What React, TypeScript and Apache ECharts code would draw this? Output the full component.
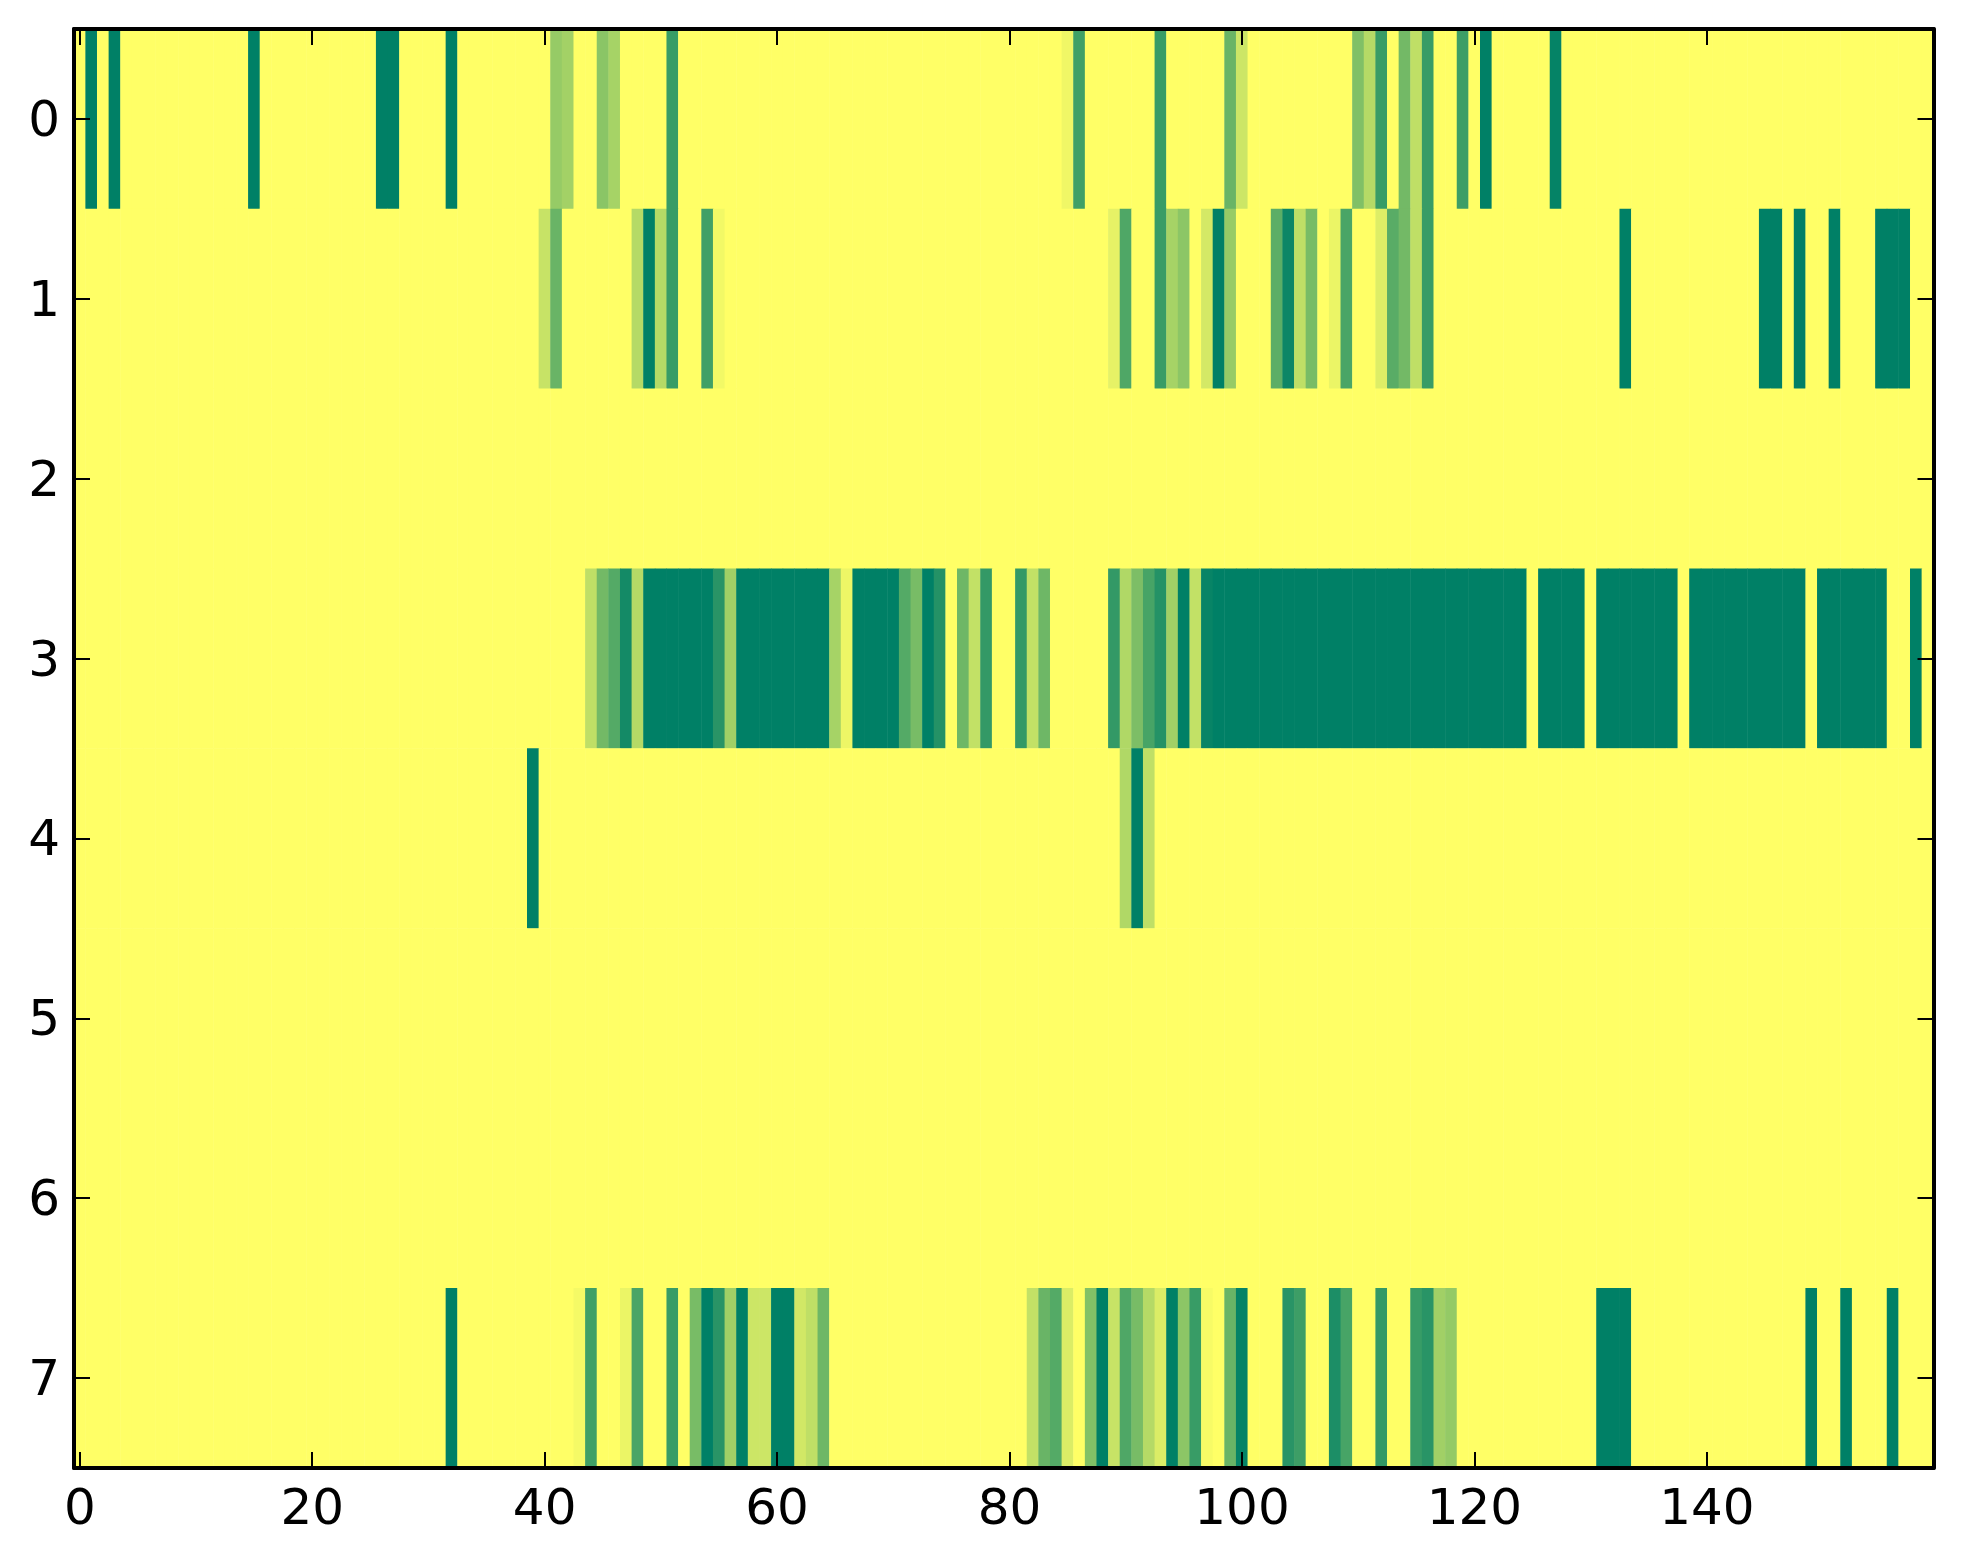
import React, { useEffect, useRef } from "react";
import * as echarts from "echarts";

const COLUMN_COUNT = 160;
const rowLabels = ["0", "1", "2", "3", "4", "5", "6", "7"];

// Each row lists [column, value]; columns not listed are 0.
const row0: [number, number][] = [
  [1, 1], [3, 1], [15, 1], [26, 1], [27, 1], [32, 1], [41, 0.41], [42, 0.36], [45, 0.46], [46, 0.35], [51, 0.78],
  [85, 0.06], [86, 0.75], [93, 0.78], [99, 0.59], [100, 0.2], [110, 0.5], [111, 0.29], [112, 0.78],
  [114, 0.55], [115, 0.25], [116, 0.78], [119, 0.76], [121, 1], [127, 0.98],
];
const row1: [number, number][] = [
  [40, 0.22], [41, 0.59], [48, 0.29], [49, 1], [50, 0.29], [51, 0.78], [54, 0.75], [55, 0.05],
  [89, 0.1], [90, 0.69], [93, 0.78], [94, 0.35], [95, 0.45], [97, 0.17], [98, 1], [99, 0.41],
  [103, 0.64], [104, 0.95], [105, 0.25], [106, 0.53], [108, 0.08], [109, 0.71],
  [112, 0.13], [113, 0.65], [114, 0.55], [115, 0.25], [116, 0.78], [133, 1],
  [145, 1], [146, 1], [148, 1], [151, 1], [155, 1], [156, 1], [157, 1],
];
const row2: [number, number][] = [];
const row3: [number, number][] = [
  [44, 0.25], [45, 0.55], [46, 0.67], [47, 0.92], [48, 0.29], [49, 1], [50, 1], [51, 1], [52, 1], [53, 1], [54, 1],
  [55, 0.84], [56, 0.37], [57, 1], [58, 1], [59, 1], [60, 1], [61, 1], [62, 1], [63, 1], [64, 1],
  [65, 0.35], [66, 0.07], [67, 1], [68, 1], [69, 1], [70, 1], [71, 0.67], [72, 0.53], [73, 1], [74, 0.86],
  [76, 0.57], [77, 0.24], [78, 0.8], [81, 0.8], [82, 0.24], [83, 0.57],
  [89, 0.8], [90, 0.31], [91, 0.51], [92, 0.72], [93, 0.86], [94, 0.37], [95, 1], [96, 0.24], [97, 0.97],
  [98, 1], [99, 1], [100, 1], [101, 1], [102, 1], [103, 1], [104, 1], [105, 1], [106, 1], [107, 1], [108, 1], [109, 1],
  [110, 1], [111, 1], [112, 1], [113, 1], [114, 1], [115, 1], [116, 1], [117, 1], [118, 1], [119, 1], [120, 1], [121, 1],
  [122, 1], [123, 1], [124, 1], [126, 1], [127, 1], [128, 1], [129, 1],
  [131, 1], [132, 1], [133, 1], [134, 1], [135, 1], [136, 1], [137, 1],
  [139, 1], [140, 1], [141, 1], [142, 1], [143, 1], [144, 1], [145, 1], [146, 1], [147, 1], [148, 1],
  [150, 1], [151, 1], [152, 1], [153, 1], [154, 1], [155, 1], [158, 1],
];
const row4: [number, number][] = [[39, 1], [90, 0.31], [91, 1], [92, 0.25]];
const row5: [number, number][] = [];
const row6: [number, number][] = [];
const row7: [number, number][] = [
  [32, 1], [43, 0.04], [44, 0.75], [47, 0.08], [48, 0.71], [51, 0.78],
  [53, 0.53], [54, 1], [55, 0.84], [56, 0.37], [57, 1], [58, 0.2], [59, 0.2], [60, 1], [61, 1],
  [62, 0.18], [63, 0.25], [64, 0.57],
  [82, 0.24], [83, 0.59], [84, 0.67], [85, 0.14], [87, 0.49], [88, 1], [89, 0.22], [90, 0.69], [91, 0.53],
  [92, 0.29], [93, 0.14], [94, 1], [95, 0.45], [96, 0.78], [97, 0.03], [99, 0.59], [100, 0.98],
  [104, 0.84], [105, 0.76], [108, 0.89], [109, 0.72], [112, 0.8], [115, 0.78], [116, 0.84], [117, 0.37], [118, 0.42],
  [131, 1], [132, 1], [133, 1], [149, 1], [152, 1], [156, 1],
];

const rows = [row0, row1, row2, row3, row4, row5, row6, row7];

function buildCells() {
  const cells: [number, number, number][] = [];
  rows.forEach((row, rowIndex) => {
    const lookup = new Map(row);
    for (let c = 0; c < COLUMN_COUNT; c++) {
      cells.push([c, rowIndex, lookup.get(c) ?? 0]);
    }
  });
  return cells;
}

export default function App() {
  const ref = useRef<HTMLDivElement>(null);
  useEffect(() => {
    if (!ref.current) return;
    const chart = echarts.init(ref.current, undefined, { renderer: "svg" });
    const columns = Array.from({ length: COLUMN_COUNT }, (_, i) => String(i));
    const everyTwenty = (i: number) => i % 20 === 0;
    const line = { show: true, onZero: false, lineStyle: { color: "#000", width: 4 } };
    const tick = { show: true, inside: true, length: 16, alignWithLabel: true, lineStyle: { color: "#000", width: 2 } };
    const font = { fontFamily: "DejaVu Sans", fontSize: 50, color: "#000" };
    chart.setOption({
      animation: false,
      backgroundColor: "#fff",
      grid: { left: 74, right: 29.5, top: 29, bottom: 96, containLabel: false },
      visualMap: {
        show: false, type: "continuous", min: 0, max: 1, dimension: 2, seriesIndex: 0,
        inRange: { color: ["#ffff66", "#008066"] },
      },
      xAxis: [
        {
          type: "category", data: columns, position: "bottom", z: 5, boundaryGap: true,
          axisLine: line, axisTick: { ...tick, interval: everyTwenty },
          axisLabel: { ...font, margin: 14, interval: everyTwenty, hideOverlap: false },
          splitLine: { show: false }, splitArea: { show: false },
        },
        {
          type: "category", data: columns, position: "top", z: 5, boundaryGap: true,
          axisLine: line, axisTick: { ...tick, interval: everyTwenty },
          axisLabel: { show: false }, splitLine: { show: false },
        },
      ],
      yAxis: [
        {
          type: "category", data: rowLabels, position: "left", inverse: true, z: 5, boundaryGap: true,
          axisLine: line, axisTick: tick,
          axisLabel: { ...font, margin: 14, interval: 0, padding: [0, 0, 3, 0] },
          splitLine: { show: false }, splitArea: { show: false },
        },
        {
          type: "category", data: rowLabels, position: "right", inverse: true, z: 5, boundaryGap: true,
          axisLine: line, axisTick: tick,
          axisLabel: { show: false }, splitLine: { show: false },
        },
      ],
      series: [
        {
          type: "heatmap", xAxisIndex: 0, yAxisIndex: 0, z: 1,
          data: buildCells(), itemStyle: { borderWidth: 0 },
          emphasis: { disabled: true }, silent: true, progressive: 0,
        },
      ],
    });
    return () => chart.dispose();
  }, []);
  return <div ref={ref} style={{ position: "absolute", left: 0, top: 0, width: 1963, height: 1564 }} />;
}
